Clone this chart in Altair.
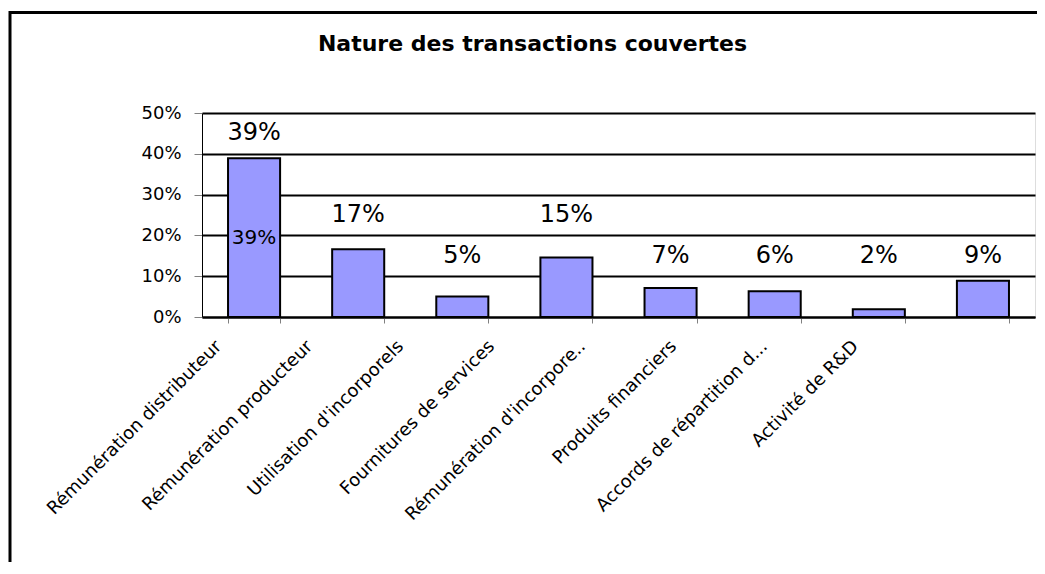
import altair as alt
import pandas as pd

categories = [
    "Rémunération distributeur",
    "Rémunération producteur",
    "Utilisation d'incorporels",
    "Fournitures de services",
    "Rémunération d'incorpore..",
    "Produits financiers",
    "Accords de répartition d...",
    "Activité de R&D",
]
values = [0.389, 0.166, 0.050, 0.146, 0.071, 0.063, 0.019, 0.089]
y_ticks = [0.0, 0.1, 0.2, 0.3, 0.4, 0.5]
title_text = "Nature des transactions couvertes"

df = pd.DataFrame({"category": categories, "value": values})

W, H = 833, 204
FONT = "DejaVu Sans"

x_enc = alt.X(
    "category:N",
    sort=categories,
    title=None,
    scale=alt.Scale(paddingInner=0.5, paddingOuter=0.25),
    axis=alt.Axis(
        labelAngle=-45,
        labelAlign="right",
        labelBaseline="top",
        labelFont=FONT,
        labelFontSize=18,
        labelColor="black",
        labelPadding=14,
        labelOffset=alt.ExprRef(expr="-42 - 92*datum.index"),
        labelLimit=400,
        labelOverlap=False,
        tickBand="extent",
        tickSize=6,
        tickColor="#808080",
        domainColor="black",
        domainWidth=2,
        grid=False,
    ),
)

y_enc = alt.Y(
    "value:Q",
    title=None,
    scale=alt.Scale(domain=[0, 0.5], nice=False),
    axis=alt.Axis(
        values=y_ticks,
        format=".0%",
        labelFont=FONT,
        labelFontSize=18,
        labelColor="black",
        labelPadding=13,
        tickSize=8,
        tickColor="#808080",
        domainColor="black",
        domainWidth=1,
        gridColor="black",
        gridWidth=2,
    ),
)

frame = alt.Chart(pd.DataFrame({"k": [0]})).mark_rect(
    filled=False, stroke="black", strokeWidth=3
).encode(
    x=alt.value(-192), x2=alt.value(W + 200),
    y=alt.value(-100.5), y2=alt.value(H + 400),
)

bars = alt.Chart(df).mark_bar(fill="#9999FF", stroke="black", strokeWidth=2).encode(
    x=x_enc, y=y_enc
)

labels = alt.Chart(df).transform_calculate(
    lab_pos="floor(datum.value*10)/10 + 0.15"
).mark_text(font=FONT, fontSize=24, baseline="middle", color="black").encode(
    x=alt.X("category:N", sort=categories),
    y=alt.Y("lab_pos:Q"),
    text=alt.Text("value:Q", format=".0%"),
)

inner = alt.Chart(df).transform_filter(
    alt.datum.category == categories[0]
).transform_calculate(
    mid="datum.value/2"
).mark_text(font=FONT, fontSize=20, baseline="middle", color="black").encode(
    x=alt.X("category:N", sort=categories),
    y=alt.Y("mid:Q"),
    text=alt.Text("value:Q", format=".0%"),
)

chart = alt.layer(frame, bars, labels, inner).properties(
    width=W,
    height=H,
    autosize=alt.AutoSizeParams(type="none"),
    padding={"left": 194, "top": 105, "right": 2, "bottom": 245},
    title=alt.TitleParams(
        text=title_text,
        font=FONT,
        fontSize=22,
        fontWeight="bold",
        color="black",
        anchor="middle",
        frame="group",
        dx=-86,
        offset=0,
        dy=45,
    ),
).configure_view(strokeWidth=0).configure(background="white")

chart.save("out.html", embed_options={"renderer": "svg", "actions": False})
